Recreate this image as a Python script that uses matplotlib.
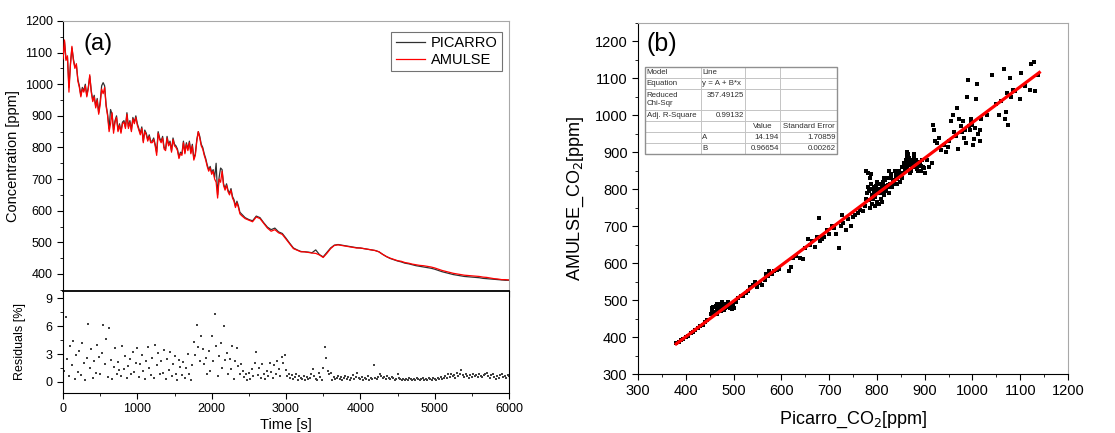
import numpy as np
import matplotlib
matplotlib.use("Agg")
import matplotlib.pyplot as plt
from matplotlib.ticker import MultipleLocator

plt.rcParams['font.family'] = ['Liberation Sans', 'DejaVu Sans']

# ---- (a) time series, 20 s steps up to 2400 s, then 50 s steps ----
time_s = np.concatenate([np.arange(0, 2401, 20), np.arange(2450, 6001, 50)])

amulse = [1080, 1140, 1075, 1090, 975, 1060, 1120, 1075, 1050, 1065,
          1010, 990, 960, 985, 975, 995, 960, 985, 1030, 975,
          945, 960, 925, 950, 905, 935, 985, 970, 990, 930,
          900, 850, 875, 910, 845, 880, 895, 850, 870, 845,
          875, 880, 860, 905, 860, 880, 850, 890, 875, 895,
          870, 855, 840, 860, 815, 850, 840, 820, 835, 815,
          815, 825, 805, 775, 845, 825, 815, 830, 795, 790,
          830, 805, 815, 785, 825, 805, 800, 790, 765, 780,
          775, 815, 780, 810, 790, 815, 780, 805, 760, 775,
          820, 850, 830, 805, 795, 775, 760, 740, 725, 735,
          715, 725, 700, 690, 640, 700, 690, 725, 680, 665,
          680, 660, 650, 665, 640, 630, 610, 625, 610, 590,
          585,
          575, 570, 565, 580, 575, 560, 545, 535, 540, 530,
          525, 510, 495, 480, 475, 470, 470, 468, 466, 465,
          460, 452, 465, 480, 490, 492, 490, 488, 486, 484,
          482, 482, 480, 478, 476, 474, 470, 462, 455, 450,
          446, 442, 440, 436, 434, 431, 429, 427, 426, 424,
          422, 419, 415, 411, 408, 405, 402, 400, 398, 396,
          395, 394, 393, 392, 390, 389, 387, 385, 384, 382,
          382, 381]

picarro = [1075, 1135, 1080, 1085, 990, 1065, 1115, 1080, 1055, 1060,
           1015, 995, 965, 990, 980, 1000, 965, 990, 1025, 980,
           950, 965, 930, 955, 910, 945, 995, 1005, 995, 935,
           905, 860, 920, 905, 855, 885, 900, 855, 875, 850,
           880, 885, 865, 910, 865, 885, 855, 895, 880, 900,
           875, 860, 845, 865, 820, 855, 845, 825, 840, 820,
           820, 830, 810, 785, 850, 830, 820, 835, 800, 795,
           835, 810, 820, 790, 830, 810, 805, 795, 770, 785,
           780, 820, 785, 815, 795, 820, 785, 810, 765, 780,
           825, 850, 835, 810, 800, 780, 765, 745, 730, 740,
           720, 730, 705, 750, 650, 705, 735, 730, 685, 670,
           685, 665, 655, 670, 645, 635, 615, 630, 615, 595,
           590,
           578, 572, 568, 583, 578, 562, 548, 540, 545, 533,
           528, 513, 497, 482, 476, 471, 470, 469, 467, 476,
           461, 454, 468, 482, 491, 493, 491, 489, 487, 485,
           483, 482, 480, 478, 476, 474, 470, 462, 455, 449,
           445, 441, 438, 434, 432, 429, 426, 424, 422, 420,
           418, 415, 411, 407, 404, 401, 398, 396, 394, 392,
           391, 390, 389, 388, 386, 385, 384, 383, 382, 381,
           380, 380]

# ---- residuals [%], every 20 s ----
res_time = np.arange(0, 6001, 20)
residuals = [4.8, 1.2, 7.0, 2.5, 0.6, 3.9, 1.8, 4.4, 0.3, 2.9,
             1.1, 3.3, 0.7, 4.2, 2.0, 0.2, 2.6, 6.2, 1.5, 3.5,
             0.4, 2.2, 1.0, 4.0, 2.7, 0.8, 3.1, 6.1, 1.9, 4.6,
             0.5, 5.8, 2.4, 0.3, 1.6, 3.7, 0.9, 2.1, 1.3, 0.6,
             3.9, 1.4, 2.8, 0.4, 1.7, 2.5, 0.9, 3.2, 1.1, 2.0,
             3.6, 0.5, 1.9, 2.9, 1.2, 0.3, 2.3, 3.8, 1.5, 0.7,
             2.6, 0.4, 4.0, 1.8, 3.1, 0.8, 2.2, 1.0, 3.4, 0.3,
             2.5, 1.3, 3.2, 0.6, 1.9, 2.8, 0.9, 0.2, 2.4, 1.6,
             0.7, 2.1, 0.4, 1.5, 3.0, 0.9, 0.2, 1.8, 4.3, 2.9,
             6.1, 3.8, 2.3, 4.9, 3.5, 1.9, 2.6, 0.8, 3.3, 1.2,
             4.9, 2.2, 7.3, 3.9, 0.6, 2.8, 4.2, 1.5, 6.0, 2.4,
             3.1, 0.8, 2.5, 1.4, 3.9, 0.3, 2.2, 3.6, 1.7, 0.9,
             1.9, 1.2, 0.5, 0.8, 0.2, 1.0, 0.3, 1.4, 0.6, 2.0,
             3.2, 0.7, 1.5, 0.4, 1.9, 0.9, 0.3, 1.2, 0.6, 2.0,
             1.1, 0.4, 1.8, 0.9, 2.3, 1.4, 0.6, 2.7, 2.0, 2.9,
             1.3, 0.6, 0.9, 0.4, 0.7, 0.3, 0.5, 0.8, 0.2, 0.6,
             0.4, 0.3, 0.6, 0.2, 0.5, 0.3, 0.4, 0.9, 1.4, 0.6,
             0.3, 0.2, 1.0, 0.5, 0.2, 1.5, 3.8, 2.6, 1.2, 0.8,
             1.0, 0.2, 0.5, 0.3, 0.4, 0.6, 0.3, 0.5, 0.2, 0.4,
             0.6, 0.3, 0.5, 0.2, 0.4, 0.7, 0.3, 0.5, 1.0, 0.4,
             0.3, 0.5, 0.2, 0.4, 0.3, 0.6, 0.2, 0.4, 0.3, 1.8,
             0.4, 0.3, 0.5, 0.8, 0.6, 0.4, 0.5, 0.3, 0.6, 0.4,
             0.3, 0.5, 0.4, 0.2, 0.3, 0.9, 0.4, 0.3, 0.2, 0.3,
             0.2, 0.3, 0.2, 0.4, 0.3, 0.2, 0.3, 0.2, 0.4, 0.3,
             0.2, 0.3, 0.4, 0.2, 0.3, 0.2, 0.4, 0.3, 0.2, 0.4,
             0.3, 0.2, 0.4, 0.3, 0.5, 0.3, 0.4, 0.6, 0.4, 0.8,
             0.5, 0.9, 0.6, 0.7, 0.4, 1.0, 0.6, 0.8, 1.3, 0.7,
             0.5, 0.8, 0.6, 0.4, 0.7, 0.5, 0.8, 0.6, 0.7, 0.5,
             0.8, 0.6, 0.5, 0.7, 0.9, 1.0, 0.6, 0.4, 0.7, 0.9,
             0.5, 0.3, 0.6, 0.4, 0.7, 0.8, 0.5, 0.6, 0.4, 0.7,
             0.6]

# ---- (b) scatter Picarro vs AMULSE ----
sc_picarro = [380, 385, 390, 395, 400, 405, 410, 415, 420, 425, 430, 435, 440, 445,
              452, 455, 458, 460, 462, 465, 468, 470, 472, 475, 478, 480, 482, 485,
              488, 490, 492, 495, 498, 500, 458, 470,
              455, 460, 463, 466, 470, 473, 476, 479, 483, 486, 489, 493, 496, 499,
              465, 475,
              505, 510, 515, 520, 525, 530, 535, 540, 545, 550, 555, 560, 565, 568,
              572, 575, 580, 585, 590, 595,
              615, 620, 625, 630, 640, 645, 650, 655, 660, 665, 670, 675, 678, 680,
              685, 690, 695, 700, 705, 710, 715,
              720, 725, 728, 730, 735, 740, 745, 750, 755, 760, 765, 770, 775,
              778, 782, 785, 788, 790, 780, 783, 786, 790, 793, 795, 798, 800, 802,
              805, 808, 810, 812, 815, 818, 820, 822, 825, 828, 830, 832, 835, 838,
              840, 842, 845, 848, 850, 852, 855, 858, 860, 862, 864, 866, 868, 870,
              872, 875, 878, 880, 883, 886, 890, 893, 896, 900, 800, 795, 805, 815,
              825, 778, 785, 810,
              781, 784, 787, 791, 794, 797, 801, 804, 807, 811, 814, 817, 819, 823,
              826, 829, 833, 836, 839, 843, 846, 849, 853, 856, 859, 861, 863, 867,
              869, 873, 876, 879, 882, 885, 888, 892, 895, 899, 877, 865,
              905, 910, 915, 918, 920, 925, 930, 935, 940, 945, 950, 955, 960, 965,
              968, 970, 975, 978, 980, 983, 986, 988, 990, 992, 995, 998, 1000, 1002,
              1005, 1008, 1010, 1012, 1015, 1018,
              922, 948, 962, 972, 985, 996, 1004, 1016,
              1030, 1040, 1050, 1055, 1060, 1065, 1068, 1070, 1072, 1075, 1078, 1080,
              1085, 1090, 1100, 1102, 1110, 1120, 1122, 1128, 1130, 1138]
sc_amulse = [383, 387, 392, 395, 400, 404, 410, 415, 420, 424, 430, 433, 440, 445,
             462, 470, 465, 480, 468, 472, 476, 470, 482, 478, 485, 476, 490, 480,
             495, 486, 478, 490, 482, 478, 482, 490,
             478, 465, 485, 462, 480, 470, 488, 472, 478, 490, 484, 488, 476, 488,
             490, 494,
             495, 505, 510, 512, 520, 525, 535, 540, 548, 535, 545, 540, 555, 570,
             565, 578, 572, 580, 582, 585,
             580, 590, 615, 620, 615, 610, 640, 665, 650, 660, 645, 670, 722, 660,
             665, 670, 690, 680, 700, 695, 680,
             640, 700, 730, 710, 690, 720, 700, 725, 730, 735, 745, 740, 755,
             850, 845, 830, 840, 760, 790, 770, 800, 785, 795, 780, 810, 800, 790,
             815, 775, 805, 820, 795, 810, 800, 830, 790, 815, 840, 805, 825, 850,
             830, 815, 840, 820, 835, 860, 845, 870, 880, 890, 855, 895, 865, 875,
             850, 860, 885, 870, 855, 865, 875, 850, 860, 845, 765, 755, 760, 830,
             850, 775, 750, 765,
             805, 795, 815, 775, 805, 790, 820, 800, 790, 812, 785, 825, 795, 812,
             805, 830, 820, 815, 838, 828, 850, 845, 830, 870, 855, 865, 900, 885,
             845, 880, 870, 860, 880, 850, 868, 862, 880, 858, 895, 875,
             880, 860, 870, 975, 960, 925, 940, 905, 920, 900, 930, 985, 1000, 945,
             1020, 910, 970, 955, 985, 940, 925, 1050, 1095, 970, 960, 990, 975, 920,
             965, 1045, 1085, 950, 930, 990,
             930, 915, 955, 990, 960, 980, 935, 960,
             1000, 1110, 1030, 1000, 1040, 1125, 990, 1010, 1060, 975, 1100, 1050,
             1070, 1065, 1045, 1115, 1080, 1070, 1140, 1145, 1065, 1110]

# linear fit parameters (from fit table)
fit_A = 14.194
fit_B = 0.96654
fit_range = [380, 1140]

table_rows = [["Model", "Line", "", ""],
              ["Equation", "y = A + B*x", "", ""],
              ["Reduced\nChi-Sqr", "357.49125\n", "", ""],
              ["Adj. R-Square", "0.99132", "", ""],
              ["", "", "Value", "Standard Error"],
              ["", "A", "14.194", "1.70859"],
              ["", "B", "0.96654", "0.00262"]]

W, H = 1115, 433
fig = plt.figure(figsize=(W / 100, H / 100), dpi=100)

def px_axes(x0, y0, x1, y1):
    return fig.add_axes([x0 / W, 1 - y1 / H, (x1 - x0) / W, (y1 - y0) / H])

grey = '#a8a8a8'

# ---------- (a) upper ----------
ax1 = px_axes(63, 21, 509, 291)
ax1.plot(time_s, picarro, color='#303030', lw=0.9, label='PICARRO', zorder=2)
ax1.plot(time_s, amulse, color='#ff0000', lw=0.9, label='AMULSE', zorder=3)
ax1.set_xlim(0, 6000)
ax1.yaxis.set_minor_locator(MultipleLocator(50))
ax1.xaxis.set_major_locator(MultipleLocator(1000))
ax1.xaxis.set_minor_locator(MultipleLocator(500))
ax1.tick_params(axis='x', which='both', labelbottom=False, direction='out', length=4)
ax1.tick_params(axis='y', which='major', direction='out', length=4, labelsize=9)
ax1.tick_params(axis='y', which='minor', direction='out', length=2.5)
ax1.set_yticks(np.arange(400, 1201, 100))
ax1.set_ylim(346, 1200)
ax1.set_ylabel('Concentration [ppm]', fontsize=10.5, labelpad=3)
for s in ['top', 'right']:
    ax1.spines[s].set_color(grey)
ax1.text(0.045, 0.955, '(a)', transform=ax1.transAxes, fontsize=17, va='top')
leg = ax1.legend(loc='upper right', fontsize=10.5, frameon=True, fancybox=False,
                 edgecolor='#505050', handlelength=2.0, handletextpad=0.4,
                 borderpad=0.3, labelspacing=0.2, borderaxespad=0,
                 bbox_to_anchor=(0.984, 0.96))
leg.get_frame().set_linewidth(0.8)

# ---------- (a) residuals ----------
ax2 = px_axes(63, 291, 509, 393)
ax2.scatter(res_time, residuals, s=1.0, color='#404040', marker='s', linewidths=0)
ax2.set_xlim(0, 6000)
ax2.set_ylim(-1.2, 9.8)
ax2.set_yticks([0, 3, 6, 9])
ax2.yaxis.set_minor_locator(MultipleLocator(1.5))
ax2.xaxis.set_major_locator(MultipleLocator(1000))
ax2.xaxis.set_minor_locator(MultipleLocator(500))
ax2.tick_params(which='major', direction='out', length=4, labelsize=9)
ax2.tick_params(which='minor', direction='out', length=2.5)
ax2.set_xlabel('Time [s]', fontsize=10.5, labelpad=2)
ax2.set_ylabel('Residuals [%]', fontsize=9, labelpad=14)
ax2.spines['top'].set_linewidth(1.3)

# ---------- (b) ----------
ax3 = px_axes(638, 23, 1068, 374)
ax3.scatter(sc_picarro, sc_amulse, s=5, color='black', marker='s', linewidths=0, zorder=2)
fx = np.array(fit_range)
ax3.plot(fx, fit_A + fit_B * fx, color='#ff0000', lw=2.3, zorder=3)
ax3.set_xlim(300, 1200)
ax3.set_ylim(300, 1250)
ax3.xaxis.set_major_locator(MultipleLocator(100))
ax3.xaxis.set_minor_locator(MultipleLocator(50))
ax3.set_yticks(np.arange(300, 1201, 100))
ax3.yaxis.set_minor_locator(MultipleLocator(50))
ax3.tick_params(which='major', direction='out', length=4, labelsize=10.5)
ax3.tick_params(which='minor', direction='out', length=2.5)
for s in ['top', 'right']:
    ax3.spines[s].set_color(grey)
ax3.set_xlabel('Picarro_CO$_2$[ppm]', fontsize=13, labelpad=8)
ax3.set_ylabel('AMULSE_CO$_2$[ppm]', fontsize=13, labelpad=6)
ax3.text(0.02, 0.975, '(b)', transform=ax3.transAxes, fontsize=18, va='top')

col_w = [167, 133, 105, 170]
tbl = ax3.table(cellText=table_rows, colWidths=[c / sum(col_w) for c in col_w],
                cellLoc='left', bbox=[0.016, 0.627, 0.447, 0.248], zorder=5)
tbl.auto_set_font_size(False)
tbl.set_fontsize(5.7)
right_cells = {(2, 1), (3, 1), (5, 2), (5, 3), (6, 2), (6, 3)}
for (r, c), cell in tbl.get_celld().items():
    cell.set_edgecolor('#c0c0c0')
    cell.set_linewidth(0.6)
    cell.PAD = 0.03
    if r == 2:
        cell.set_height(cell.get_height() * 2.0)
    if (r, c) in right_cells:
        cell.get_text().set_ha('right')
    if (r, c) in {(4, 2), (4, 3)}:
        cell.get_text().set_ha('center')
    cell.get_text().set_color('#303030')

# outer frame of the fit table
ax3.add_patch(plt.Rectangle((0.016, 0.627), 0.447, 0.248, transform=ax3.transAxes,
                            fill=False, edgecolor='#909090', lw=1.0, zorder=6))

fig.savefig('out.png', dpi=100)
